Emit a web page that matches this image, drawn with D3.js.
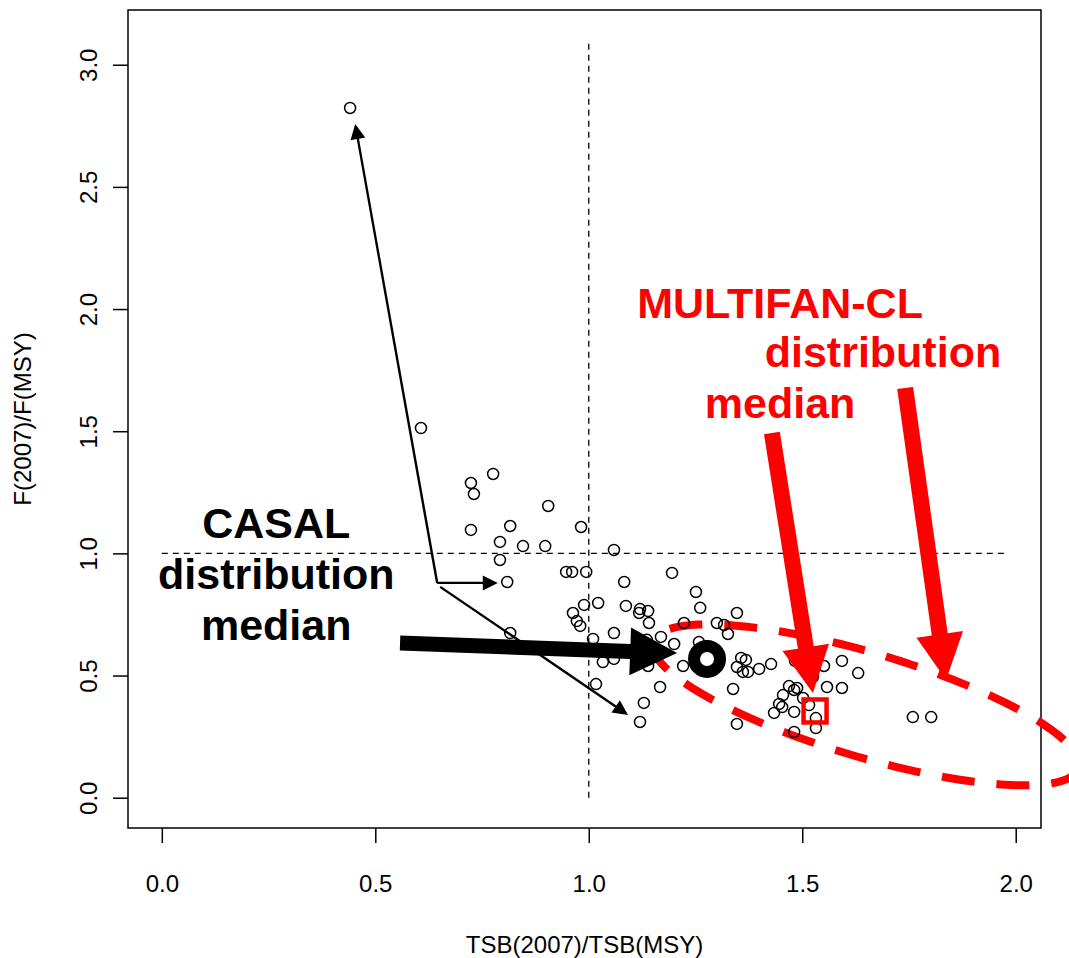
<!DOCTYPE html>
<html>
<head>
<meta charset="utf-8">
<script src="https://cdn.jsdelivr.net/npm/d3@7"></script>
<style>
  html, body { margin: 0; padding: 0; background: #fff; }
  svg { display: block; }
  text { font-family: "Liberation Sans", Arial, Helvetica, sans-serif; }
</style>
</head>
<body>
<svg id="chart" width="1069" height="958"></svg>
<script>
// Stock status scatter: TSB(2007)/TSB(MSY) against F(2007)/F(MSY)
const tsbRatio = [
  0.441, 0.607, 0.724, 0.776, 0.731, 0.905, 0.724, 0.816, 0.792, 0.846,
  0.898, 0.982, 1.059, 0.792, 0.947, 0.961, 0.994, 0.809, 1.083, 1.195,
  1.251, 1.261, 1.022, 0.989, 0.963, 0.972, 0.980, 1.087, 1.120, 1.139,
  1.118, 1.141, 1.059, 1.010, 0.816, 1.169, 1.200, 1.223, 1.300, 1.221,
  1.033, 1.059, 1.139, 1.167, 1.017, 1.129, 1.120, 1.258, 1.347, 1.317,
  1.326, 1.357, 1.368, 1.347, 1.361, 1.373, 1.399, 1.427, 1.338, 1.347,
  1.469, 1.488, 1.481, 1.455, 1.446, 1.453, 1.434, 1.481, 1.502, 1.516,
  1.532, 1.532, 1.481, 1.551, 1.558, 1.593, 1.593, 1.631, 1.759, 1.802,
  1.525, 1.483, 1.136
];
const fRatio = [
  2.823, 1.513, 1.288, 1.325, 1.243, 1.194, 1.096, 1.112, 1.047, 1.030,
  1.030, 1.108, 1.014, 0.973, 0.924, 0.924, 0.924, 0.883, 0.883, 0.920,
  0.842, 0.777, 0.797, 0.789, 0.756, 0.723, 0.703, 0.785, 0.772, 0.764,
  0.756, 0.715, 0.674, 0.650, 0.674, 0.658, 0.629, 0.715, 0.715, 0.539,
  0.555, 0.568, 0.539, 0.453, 0.465, 0.388, 0.310, 0.637, 0.756, 0.707,
  0.670, 0.572, 0.564, 0.535, 0.515, 0.515, 0.527, 0.547, 0.445, 0.302,
  0.457, 0.449, 0.441, 0.420, 0.384, 0.371, 0.347, 0.351, 0.408, 0.379,
  0.326, 0.285, 0.269, 0.539, 0.453, 0.560, 0.449, 0.510, 0.330, 0.330,
  0.494, 0.560, 0.646
];

const xTicks = [0, 0.5, 1.0, 1.5, 2.0];
const yTicks = [0, 0.5, 1.0, 1.5, 2.0, 2.5, 3.0];

// medians of the two model distributions
const casalMedian = [1.277, 0.568];
const multifanMedian = [1.530, 0.355];

// reference lines at MSY levels
const refVertical = { x: 1.0, y0: 0, y1: 3.1 };
const refHorizontal = { y: 1.0, x0: 0, x1: 1.98 };

// annotation arrows [x0, y0, x1, y1] in data units
const thinArrows = [
  [0.645, 0.879, 0.453, 2.757],
  [0.645, 0.879, 0.787, 0.879],
  [0.652, 0.863, 1.092, 0.339]
];
const casalArrow = [0.558, 0.633, 1.207, 0.592];
const multifanArrows = [
  [1.429, 1.493, 1.525, 0.429],
  [1.741, 1.677, 1.837, 0.482]
];

// MULTIFAN-CL distribution ellipse: centre and conjugate semi-axes (data units)
const ellipseCentre = [1.649, 0.380];
const ellipseMajor = [0.4986, -0.2583];
const ellipseMinor = [-0.0347, -0.2043];

const casalLabel = ["CASAL", "distribution", "median"];
const casalLabelPos = [[0.268, 1.063], [0.268, 0.854], [0.268, 0.645]];
const multifanLabel = ["MULTIFAN-CL", "distribution", "median"];
const multifanLabelPos = [[1.448, 1.964], [1.689, 1.763], [1.448, 1.554]];

const svg = d3.select("#chart");
const plot = { left: 128, right: 1041, top: 10, bottom: 828 };

const x = d3.scaleLinear().domain([-0.0792, 2.0592]).range([plot.left, plot.right]);
const y = d3.scaleLinear().domain([-0.124, 3.224]).range([plot.bottom, plot.top]);

// plot frame
svg.append("rect")
  .attr("x", plot.left).attr("y", plot.top)
  .attr("width", plot.right - plot.left).attr("height", plot.bottom - plot.top)
  .attr("fill", "none").attr("stroke", "#000").attr("stroke-width", 1.5);

// axes
const xAxis = svg.append("g")
  .attr("transform", `translate(0,${plot.bottom})`)
  .call(d3.axisBottom(x).tickValues(xTicks).tickFormat(d3.format(".1f"))
    .tickSize(15).tickPadding(32));
xAxis.select(".domain").remove();
xAxis.selectAll("line").attr("stroke-width", 1.5);
xAxis.selectAll("text").attr("font-size", 24).attr("fill", "#000")
  .attr("font-family", "Liberation Sans, Arial, sans-serif");

const yAxis = svg.append("g")
  .attr("transform", `translate(${plot.left},0)`)
  .call(d3.axisLeft(y).tickValues(yTicks).tickFormat(d3.format(".1f")).tickSize(15));
yAxis.select(".domain").remove();
yAxis.selectAll("line").attr("stroke-width", 1.5);
yAxis.selectAll("text")
  .attr("x", null).attr("dy", null)
  .attr("transform", "translate(-31,0) rotate(-90)")
  .attr("text-anchor", "middle")
  .attr("font-size", 24).attr("fill", "#000")
  .attr("font-family", "Liberation Sans, Arial, sans-serif");

// axis titles
svg.append("text")
  .attr("x", (plot.left + plot.right) / 2).attr("y", 953)
  .attr("text-anchor", "middle").attr("font-size", 24)
  .text("TSB(2007)/TSB(MSY)");
svg.append("text")
  .attr("transform", `translate(31,${(plot.top + plot.bottom) / 2}) rotate(-90)`)
  .attr("text-anchor", "middle").attr("font-size", 24)
  .text("F(2007)/F(MSY)");

// dashed reference lines
svg.append("line")
  .attr("x1", x(refVertical.x)).attr("x2", x(refVertical.x))
  .attr("y1", y(refVertical.y0)).attr("y2", y(refVertical.y1))
  .attr("stroke", "#000").attr("stroke-width", 1.3).attr("stroke-dasharray", "6,5");
svg.append("line")
  .attr("x1", x(refHorizontal.x0)).attr("x2", x(refHorizontal.x1))
  .attr("y1", y(refHorizontal.y)).attr("y2", y(refHorizontal.y))
  .attr("stroke", "#000").attr("stroke-width", 1.3).attr("stroke-dasharray", "6,5");

// MULTIFAN-CL ellipse
const ts = d3.range(0, 201).map(i => i / 200 * 2 * Math.PI);
const ellipsePts = ts.map(t => [
  ellipseCentre[0] + Math.cos(t) * ellipseMajor[0] + Math.sin(t) * ellipseMinor[0],
  ellipseCentre[1] + Math.cos(t) * ellipseMajor[1] + Math.sin(t) * ellipseMinor[1]
]);
svg.append("path")
  .attr("d", d3.line().x(d => x(d[0])).y(d => y(d[1]))(ellipsePts))
  .attr("fill", "none").attr("stroke", "#ff0000").attr("stroke-width", 8)
  .attr("stroke-dasharray", "33,22");

// scatter points
svg.append("g").selectAll("circle")
  .data(tsbRatio.map((v, i) => [v, fRatio[i]]))
  .join("circle")
  .attr("cx", d => x(d[0])).attr("cy", d => y(d[1]))
  .attr("r", 5.5).attr("fill", "none").attr("stroke", "#000").attr("stroke-width", 1.5);

// arrow as a filled polygon: shaft plus triangular head
function arrowPath(a, shaftW, headLen, headHalf) {
  const x0 = x(a[0]), y0 = y(a[1]), x1 = x(a[2]), y1 = y(a[3]);
  const dx = x1 - x0, dy = y1 - y0, len = Math.hypot(dx, dy);
  const ux = dx / len, uy = dy / len, nx = -uy, ny = ux;
  const bx = x1 - ux * headLen, by = y1 - uy * headLen;
  const s = shaftW / 2;
  const p = [
    [x0 + nx * s, y0 + ny * s],
    [bx + nx * s, by + ny * s],
    [bx + nx * headHalf, by + ny * headHalf],
    [x1, y1],
    [bx - nx * headHalf, by - ny * headHalf],
    [bx - nx * s, by - ny * s],
    [x0 - nx * s, y0 - ny * s]
  ];
  return "M" + p.map(q => q[0].toFixed(1) + "," + q[1].toFixed(1)).join("L") + "Z";
}

svg.append("g").selectAll("path")
  .data(thinArrows).join("path")
  .attr("d", d => arrowPath(d, 2.4, 15, 7.5))
  .attr("fill", "#000");

svg.append("path")
  .attr("d", arrowPath(casalArrow, 15, 47, 24))
  .attr("fill", "#000");

svg.append("g").selectAll("path")
  .data(multifanArrows).join("path")
  .attr("d", d => arrowPath(d, 16, 46, 23.5))
  .attr("fill", "#ff0000");

// medians
svg.append("circle")
  .attr("cx", x(casalMedian[0])).attr("cy", y(casalMedian[1]))
  .attr("r", 13).attr("fill", "none").attr("stroke", "#000").attr("stroke-width", 12);
svg.append("rect")
  .attr("x", x(multifanMedian[0]) - 11.5).attr("y", y(multifanMedian[1]) - 11.5)
  .attr("width", 23).attr("height", 23)
  .attr("fill", "none").attr("stroke", "#ff0000").attr("stroke-width", 4.5);

// labels
svg.append("g").selectAll("text")
  .data(casalLabel).join("text")
  .attr("x", (d, i) => x(casalLabelPos[i][0]))
  .attr("y", (d, i) => y(casalLabelPos[i][1]))
  .attr("text-anchor", "middle").attr("font-size", 43).attr("font-weight", "bold")
  .attr("fill", "#000")
  .text(d => d);

svg.append("g").selectAll("text")
  .data(multifanLabel).join("text")
  .attr("x", (d, i) => x(multifanLabelPos[i][0]))
  .attr("y", (d, i) => y(multifanLabelPos[i][1]))
  .attr("text-anchor", "middle").attr("font-size", 43).attr("font-weight", "bold")
  .attr("fill", "#ff0000")
  .text(d => d);
</script>
</body>
</html>
